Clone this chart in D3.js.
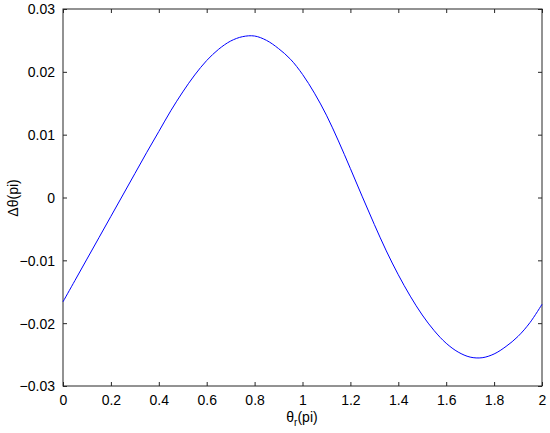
<!DOCTYPE html>
<html><head><meta charset="utf-8">
<script src="https://cdn.jsdelivr.net/npm/d3@7"></script>
<style>body{margin:0;background:#fff}svg{display:block}text{font-family:Arial,"Liberation Sans",sans-serif;}</style>
</head><body>
<script>
const xValues = [0,0.05,0.1,0.15,0.2,0.25,0.3,0.35,0.4,0.45,0.5,0.55,0.6,0.65,0.7,0.75,0.8,0.85,0.9,0.95,1.0,
  1.05,1.1,1.15,1.2,1.25,1.3,1.35,1.4,1.45,1.5,1.55,1.6,1.65,1.7,1.75,1.8,1.85,1.9,1.95,2.0];
const yValues = [-0.0166,-0.0132,-0.0098,-0.0064,-0.0030,0.0004,0.0038,0.0072,0.0105,0.0138,0.0168,0.0195,0.0218,0.0236,0.0249,0.0256,0.0257,0.0250,0.0237,0.0220,0.0196,
  0.0166,0.0131,0.0090,0.0046,0.0001,-0.0043,-0.0085,-0.0123,-0.0157,-0.0187,-0.0212,-0.0232,-0.0246,-0.0254,-0.0255,-0.0249,-0.0237,-0.0221,-0.0199,-0.0170];
const xTicks = [0,0.2,0.4,0.6,0.8,1,1.2,1.4,1.6,1.8,2];
const yTicks = [-0.03,-0.02,-0.01,0,0.01,0.02,0.03];

const W=550,H=433, L=63, R=542, T=9, B=386;
const svg=d3.select("body").append("svg").attr("width",W).attr("height",H);
const x=d3.scaleLinear().domain([0,2]).range([L,R]);
const y=d3.scaleLinear().domain([-0.03,0.03]).range([B,T]);
const fmt=d => d===0?"0":d3.format("")(+d.toFixed(2));
const tk=4, col="#262626";

svg.append("rect").attr("x",L).attr("y",T).attr("width",R-L).attr("height",B-T)
  .attr("fill","#fff").attr("stroke",col).attr("stroke-width",1);

const line=d3.line().x((d,i)=>x(xValues[i])).y(d=>y(d)).curve(d3.curveCatmullRom);
svg.append("path").datum(yValues).attr("d",line).attr("fill","none").attr("stroke","#0000ff").attr("stroke-width",1);

const gx=svg.append("g").attr("transform",`translate(0,${B})`).call(d3.axisBottom(x).tickValues(xTicks).tickSize(-tk).tickPadding(9).tickFormat(d=>d3.format("")(d)));
const gxt=svg.append("g").attr("transform",`translate(0,${T})`).call(d3.axisTop(x).tickValues(xTicks).tickSize(-tk).tickFormat(""));
const gy=svg.append("g").attr("transform",`translate(${L},0)`).call(d3.axisLeft(y).tickValues(yTicks).tickSize(-tk).tickPadding(8).tickFormat(fmt));
const gyr=svg.append("g").attr("transform",`translate(${R},0)`).call(d3.axisRight(y).tickValues(yTicks).tickSize(-tk).tickFormat(""));
[gx,gxt,gy,gyr].forEach(g=>{
  g.select(".domain").remove();
  g.selectAll(".tick line").attr("stroke",col);
  g.selectAll("text").attr("font-size",14).attr("fill","#000").attr("font-family","Arial, 'Liberation Sans', sans-serif");
});
gy.selectAll("text").attr("dy","0.35em");

const xl=svg.append("text").attr("x",302).attr("y",422).attr("text-anchor","middle").attr("font-size",14).attr("fill","#000");
xl.append("tspan").text("θ");
xl.append("tspan").attr("font-size",10).attr("dy",4).text("r");
xl.append("tspan").attr("dy",-4).text("(pi)");

svg.append("text").attr("transform","translate(18,198) rotate(-90)").attr("text-anchor","middle")
  .attr("font-size",14).attr("fill","#000").text("Δθ(pi)");
</script>
</body></html>
